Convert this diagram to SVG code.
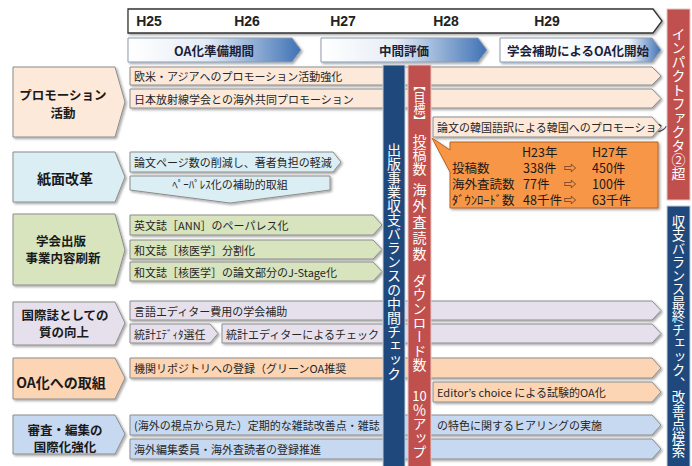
<svg xmlns="http://www.w3.org/2000/svg" width="692" height="466" viewBox="0 0 692 466">
<defs>
  <filter id="sh" x="-5%" y="-20%" width="115%" height="160%">
    <feDropShadow dx="1.5" dy="1.5" stdDeviation="0.8" flood-color="#000" flood-opacity="0.35"/>
  </filter>
  <linearGradient id="gA" x1="0" y1="0" x2="1" y2="0">
    <stop offset="0" stop-color="#ffffff"/>
    <stop offset="0.45" stop-color="#e6edf6"/>
    <stop offset="1" stop-color="#3f72b5"/>
  </linearGradient>
  <linearGradient id="gB" x1="0" y1="0" x2="1" y2="0">
    <stop offset="0" stop-color="#ffffff"/>
    <stop offset="0.8" stop-color="#f2f6fb"/>
    <stop offset="1" stop-color="#3f72b5"/>
  </linearGradient>
</defs>
<style>
  .sh{filter:url(#sh)}
  .bd{stroke:#8c8c8c;stroke-width:1}
  .rt{font-family:"Noto Sans CJK JP",sans-serif;font-size:11px;fill:#262626;dominant-baseline:central}
  .nt{font-family:"Noto Sans CJK JP",sans-serif;font-size:12.5px;font-weight:bold;fill:#1a1a1a;text-anchor:middle;dominant-baseline:central}
  .ht{font-family:"Liberation Sans",Arial,sans-serif;font-size:14px;font-weight:bold;fill:#222;text-anchor:middle;dominant-baseline:central}
  .pt{font-family:"Noto Sans CJK JP",sans-serif;font-size:12.5px;font-weight:bold;fill:#1b1f3a;text-anchor:middle;dominant-baseline:central}
  .vt{font-family:"Noto Sans CJK JP",sans-serif;font-size:14px;fill:#ffffff;writing-mode:vertical-rl}
  .up{text-orientation:upright}
  .ot{font-family:"Noto Sans CJK JP",sans-serif;font-size:12.5px;fill:#1a1a1a;dominant-baseline:central}
  .pk{fill:#fde9d9}
  .lb{fill:#dbeef4}
  .gr{fill:#d7e4bd}
  .lv{fill:#e5e0ec}
  .or{fill:#fcd5b5}
  .bl{fill:#c6d9f1}
  .vb{fill:#1f497d;stroke:#c3ccda;stroke-width:1}
  .vr{fill:#c0504d;stroke:#e6c4c3;stroke-width:1}
</style>

<!-- timeline header -->
<g id="timeline">
  <polygon class="sh" points="128,9 653,9 662,21 653,33 128,33" fill="#fff" stroke="#333" stroke-width="1.3"/>
  <text class="ht" x="149" y="21">H25</text>
  <text class="ht" x="247" y="21">H26</text>
  <text class="ht" x="343" y="21">H27</text>
  <text class="ht" x="446" y="21">H28</text>
  <text class="ht" x="547" y="21">H29</text>
</g>

<!-- phases -->
<g id="phase-oa-prep">
  <polygon class="sh" points="128,38 292,38 301,50 292,62 128,62" fill="url(#gA)" stroke="#8c9bb0" stroke-width="1"/>
  <text class="pt" x="214" y="50">OA化準備期間</text>
</g>
<g id="phase-mid">
  <polygon class="sh" points="321,38 478,38 487,50 478,62 321,62" fill="url(#gA)" stroke="#8c9bb0" stroke-width="1"/>
  <text class="pt" x="404" y="50">中間評価</text>
</g>
<g id="phase-start">
  <polygon class="sh" points="500,38 652,38 661,50 652,62 500,62" fill="url(#gB)" stroke="#8c9bb0" stroke-width="1"/>
  <text class="pt" x="578" y="50">学会補助によるOA化開始</text>
</g>

<!-- left category nodes -->
<g id="node-promotion">
  <polygon class="sh bd pk" points="13,67 115,67 125,102 115,137 13,137"/>
  <text class="nt" x="63" y="94">プロモーション</text>
  <text class="nt" x="63" y="112">活動</text>
</g>
<g id="node-paper">
  <polygon class="sh bd lb" points="13,152 115,152 125,177 115,202 13,202"/>
  <text class="nt" x="65" y="178" style="font-size:14px">紙面改革</text>
</g>
<g id="node-publishing">
  <polygon class="sh bd gr" points="13,214 115,214 125,250 115,285 13,285"/>
  <text class="nt" x="61" y="240">学会出版</text>
  <text class="nt" x="63" y="257">事業内容刷新</text>
</g>
<g id="node-quality">
  <polygon class="sh bd lv" points="13,302 115,302 125,323 115,345 13,345"/>
  <text class="nt" x="65" y="314">国際誌としての</text>
  <text class="nt" x="64" y="331">質の向上</text>
</g>
<g id="node-oa">
  <polygon class="sh bd or" points="13,358 115,358 125,378 115,399 13,399"/>
  <text class="nt" x="61" y="382" style="font-size:14px">OA化への取組</text>
</g>
<g id="node-review">
  <polygon class="sh bd bl" points="13,415 115,415 125,434 115,454 13,454"/>
  <text class="nt" x="65" y="429">審査・編集の</text>
  <text class="nt" x="65" y="446">国際化強化</text>
</g>

<!-- activity rows -->
<g id="rows">
  <g id="row-promo-1">
    <polygon class="sh bd pk" points="130,67 652,67 661,76 652,85 130,85"/>
    <text class="rt" x="134" y="76">欧米・アジアへのプロモーション活動強化</text>
  </g>
  <g id="row-promo-2">
    <polygon class="sh bd pk" points="130,89 652,89 661,98.5 652,108 130,108"/>
    <text class="rt" x="134" y="98.5">日本放射線学会との海外共同プロモーション</text>
  </g>
  <g id="row-paper-1">
    <polygon class="sh bd lb" points="130,152 333,152 341,162 333,172 130,172"/>
    <text class="rt" x="134" y="162">論文ページ数の削減し、著者負担の軽減</text>
  </g>
  <g id="row-paper-2">
    <polygon class="sh bd lb" points="130,176 330,176 330,190 230,203 130,190"/>
    <text class="rt" x="230" y="184" text-anchor="middle">ﾍﾟｰﾊﾟﾚｽ化の補助的取組</text>
  </g>
  <g id="row-pub-1">
    <polygon class="sh bd gr" points="130,215 373,215 382,225 373,235 130,235"/>
    <text class="rt" x="134" y="225">英文誌［ANN］のペーパレス化</text>
  </g>
  <g id="row-pub-2">
    <polygon class="sh bd gr" points="130,240 373,240 382,249.5 373,259 130,259"/>
    <text class="rt" x="134" y="249.5">和文誌［核医学］分割化</text>
  </g>
  <g id="row-pub-3">
    <polygon class="sh bd gr" points="130,262 373,262 382,271.5 373,281 130,281"/>
    <text class="rt" x="134" y="271.5">和文誌［核医学］の論文部分のJ-Stage化</text>
  </g>
  <g id="row-quality-1">
    <polygon class="sh bd lv" points="130,301 652,301 661,310.5 652,320 130,320"/>
    <text class="rt" x="134" y="310.5">言語エディター費用の学会補助</text>
  </g>
  <g id="row-quality-2a">
    <polygon class="sh bd lv" points="130,324 210,324 218,333.5 210,343 130,343"/>
    <text class="rt" x="134" y="333.5">統計ｴﾃﾞｨﾀ選任</text>
  </g>
  <g id="row-quality-2b">
    <polygon class="sh bd lv" points="222,324 652,324 661,333.5 652,343 222,343"/>
    <text class="rt" x="226" y="333.5">統計エディターによるチェック</text>
  </g>
  <g id="row-oa-1">
    <polygon class="sh bd or" points="130,358 652,358 661,368 652,378 130,378"/>
    <text class="rt" x="134" y="368">機関リポジトリへの登録（グリーンOA推奨</text>
  </g>
  <g id="row-review-1">
    <polygon class="sh bd bl" points="130,415 652,415 661,425 652,435 130,435"/>
    <text class="rt" x="134" y="425">(海外の視点から見た）定期的な雑誌改善点・雑誌</text>
  </g>
  <g id="row-review-2">
    <polygon class="sh bd bl" points="130,439 652,439 661,449 652,459 130,459"/>
    <text class="rt" x="134" y="449">海外編集委員・海外査読者の登録推進</text>
  </g>
</g>

<!-- middle vertical bars -->
<g id="bar-mid-check">
  <rect class="vb" x="383" y="65" width="22" height="402"/>
  <text class="vt" x="394" y="143">出版事業収支バランスの中間チェック</text>
</g>
<g id="bar-target">
  <rect class="vr" x="408" y="65" width="23" height="402"/>
  <text class="vt up" x="419.5" y="79" style="font-size:12px">【目標】</text>
  <text class="vt" x="419.5" y="134">投稿数</text>
  <text class="vt" x="419.5" y="183" style="letter-spacing:2px">海外査読数</text>
  <text class="vt" x="419.5" y="274">ダウンロード数</text>
  <text x="419.5" y="395" text-anchor="middle" dominant-baseline="central" style="font-family:'Noto Sans CJK JP',sans-serif;font-size:13px;fill:#fff">10</text>
  <text class="vt" x="419.5" y="403">％アップ</text>
</g>

<!-- right part rows (drawn after bars) -->
<g id="row-korea">
  <polygon class="sh bd pk" points="433,117 652,117 661,127 652,137 433,137"/>
  <text class="rt" x="437" y="127">論文の韓国語訳による韓国へのプロモーション</text>
</g>
<g id="row-oa-2">
  <polygon class="sh bd or" points="433,382 652,382 661,392 652,402 433,402"/>
  <text class="rt" x="437" y="392">Editor’s choice による試験的OA化</text>
</g>
<g id="row-review-1-cont">
  <text class="rt" x="437" y="425">の特色に関するヒアリングの実施</text>
</g>

<!-- target callout -->
<g id="callout-target">
  <path class="sh" d="M450,142 H658 V208 H450 V172 L432,138 L450,150 Z" fill="#f79646" stroke="#b9601f" stroke-width="1"/>
  <text class="ot" x="522" y="151">H23年</text>
  <text class="ot" x="592" y="151">H27年</text>
  <text class="ot" x="452" y="167">投稿数</text>
  <text class="ot" x="523" y="167">338件</text>
  <text class="ot" x="570" y="167" text-anchor="middle">⇨</text>
  <text class="ot" x="592" y="167">450件</text>
  <text class="ot" x="452" y="183">海外査読数</text>
  <text class="ot" x="523" y="183">77件</text>
  <text class="ot" x="570" y="183" text-anchor="middle">⇨</text>
  <text class="ot" x="592" y="183">100件</text>
  <text class="ot" x="452" y="199">ﾀﾞｳﾝﾛｰﾄﾞ数</text>
  <text class="ot" x="523" y="199">48千件</text>
  <text class="ot" x="570" y="199" text-anchor="middle">⇨</text>
  <text class="ot" x="592" y="199">63千件</text>
</g>

<!-- right vertical bars -->
<g id="bar-impact">
  <rect class="vr" x="667" y="9" width="23" height="191"/>
  <text class="vt" x="678.5" y="27">インパクトファクタ②超</text>
</g>
<g id="bar-final-check">
  <rect class="vb" x="667" y="206" width="23" height="261"/>
  <text class="vt" x="678.5" y="215" style="font-size:13.5px">収支バランス最終チェック、改善点模索</text>
</g>

<g id="connectors"></g>
</svg>
